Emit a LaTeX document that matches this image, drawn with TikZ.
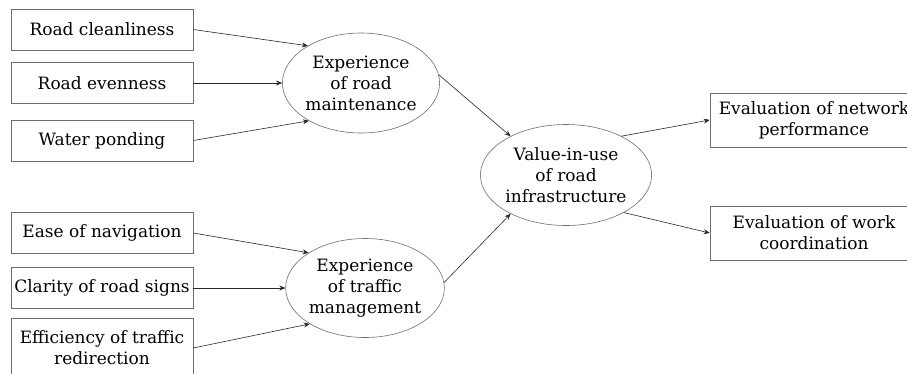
\documentclass[tikz,border=0pt]{standalone}
\usepackage{fontspec}
\setmainfont{DejaVu Serif}
\usetikzlibrary{shapes.geometric,arrows.meta}
\definecolor{line color}{RGB}{40,40,40}
\definecolor{box color}{RGB}{110,110,110}

\begin{document}
\begin{tikzpicture}[
	x=1pt, y=-1pt,
	font=\fontsize{17}{21}\selectfont,
	item/.style={draw=box color, line width=.6pt, rectangle, minimum width=182pt,
		minimum height=41pt, inner sep=2pt, align=center},
	result/.style={item, minimum width=208pt, minimum height=54pt},
	factor/.style={draw=box color, line width=.6pt, ellipse, inner sep=0pt, align=center},
	link/.style={line color, line width=.6pt, -{Stealth[length=6pt,width=5pt]}}]

\useasboundingbox (0,0) rectangle (907,373);

% Road maintenance indicators
\node (clean) at (102,29.5) [item] {Road cleanliness};
\node (even) at (102,83) [item] {Road evenness};
\node (pond) at (102,140.5) [item] {Water ponding};

% Traffic management indicators
\node (navi) at (102,233) [item] {Ease of navigation};
\node (signs) at (102,288) [item] {Clarity of road signs};
\node (redir) at (102,348) [item, minimum height=60pt] {Efficiency of traffic\\redirection};

% Latent factors
\node (maint) at (361,83) [factor, minimum width=132pt, minimum height=100pt] {Experience\\of road\\maintenance};
\node (traffic) at (365,288) [factor, minimum width=144pt, minimum height=99pt] {Experience\\of traffic\\management};
\node (value) at (566,175) [factor, minimum width=145pt, minimum height=101pt] {Value-in-use\\of road\\infrastructure};

% Outcomes
\node (network) at (814,120) [result] {Evaluation of network\\performance};
\node (coord) at (814,233) [result] {Evaluation of work\\coordination};

% Arrows
\draw [link] (clean.east) -- (maint.145);
\draw [link] (even.east) -- (maint.west);
\draw [link] (pond.east) -- (maint.216);
\draw [link] (navi.east) -- (traffic.148);
\draw [link] (signs.east) -- (traffic.west);
\draw [link] (redir.east) -- (traffic.213);
\draw [link] (maint.6) -- (value.145);
\draw [link] (traffic.4) -- (value.215);
\draw [link] (value.35) -- (network.west);
\draw [link] (value.327) -- (coord.west);

\end{tikzpicture}
\end{document}
